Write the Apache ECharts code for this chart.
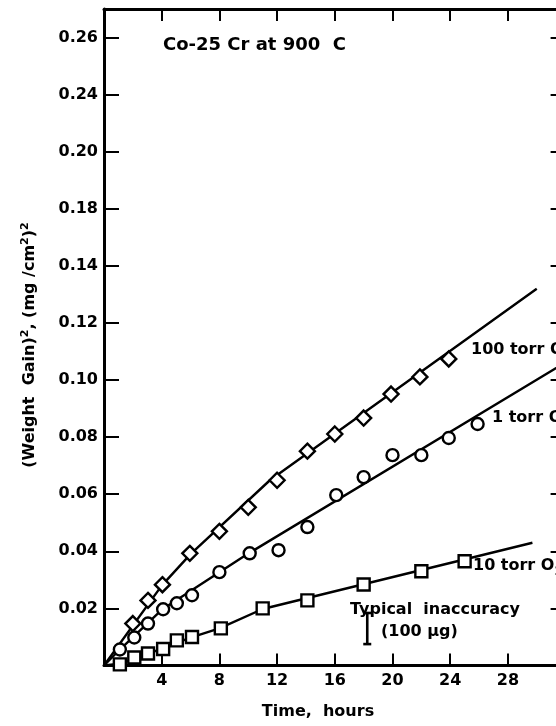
<!DOCTYPE html>
<html>
<head>
<meta charset="utf-8">
<script src="https://cdn.jsdelivr.net/npm/echarts@6/dist/echarts.min.js"></script>
<style>
  html, body { margin: 0; padding: 0; background: #fff; }
  #chart { width: 556px; height: 726px; }
</style>
</head>
<body>
<div id="chart"></div>
<script>
// Co-25 Cr oxidised at 900 C: squared weight gain vs time for three O2 pressures

// 100 torr O2 (diamonds)
const hours100 = [2.0, 3.05, 4.05, 5.95, 8.0, 10.0, 12.0, 14.1, 16.0, 18.0, 19.9, 21.9, 23.9];
const gain100  = [0.0147, 0.0228, 0.0283, 0.0393, 0.0470, 0.0554, 0.0649, 0.0751, 0.0811, 0.0867, 0.0951, 0.1011, 0.1074];
const fitHours100 = [0, 4, 6, 11.5, 30];
const fitGain100  = [0, 0.028, 0.039, 0.0649, 0.132];

// 1 torr O2 (circles)
const hours1 = [1.1, 2.1, 3.05, 4.1, 5.05, 6.1, 8.0, 10.1, 12.1, 14.1, 16.1, 18.0, 20.0, 22.0, 23.9, 25.9];
const gain1  = [0.0056, 0.0098, 0.0147, 0.0197, 0.0218, 0.0246, 0.0327, 0.0393, 0.0404, 0.0485, 0.0597, 0.0660, 0.0737, 0.0737, 0.0797, 0.0846];
const fitHours1 = [0, 1.1, 4, 10, 32];
const fitGain1  = [0, 0.0056, 0.0195, 0.0392, 0.1062];

// 10 torr O2 (squares)
const hours10 = [1.1, 2.1, 3.05, 4.1, 5.05, 6.1, 8.1, 11.0, 14.1, 18.0, 22.0, 25.0];
const gain10  = [0.0004, 0.0028, 0.0042, 0.0058, 0.0088, 0.0100, 0.0130, 0.0200, 0.0228, 0.0284, 0.0330, 0.0365];
const fitHours10 = [0, 1.1, 3, 6, 8, 11, 29.7];
const fitGain10  = [0, 0.0006, 0.004, 0.0098, 0.013, 0.0198, 0.0430];

// typical inaccuracy bar: [hours, low, high]
const inaccuracyBar = [18.25, 0.0075, 0.0184];

// axis tick labels as printed
const xTickLabels = ['', '4', '8', '12', '16', '20', '24', '28', ''];
const yTickLabels = ['', '0.02', '0.04', '0.06', '0.08', '0.10', '0.12', '0.14', '0.18', '0.20', '0.24', '0.26'];

const FONT = '"DejaVu Sans", "Liberation Sans", sans-serif';
const zip = (a, b) => a.map((v, i) => [v, b[i]]);

const chart = echarts.init(document.getElementById('chart'), null, { renderer: 'canvas' });

const axisLine = { show: true, onZero: false, lineStyle: { color: '#000', width: 3 } };
const xTick = { show: true, inside: true, length: 12, lineStyle: { color: '#000', width: 2 } };
const yTick = { show: true, inside: true, length: 15, lineStyle: { color: '#000', width: 2 } };

const fitLine = (name, hrs, vals) => ({
  name, type: 'line', data: zip(hrs, vals), showSymbol: false, symbol: 'none',
  lineStyle: { color: '#000', width: 2.4 }, z: 2, silent: true, animation: false
});
const points = (name, hrs, vals, symbol, size) => ({
  name, type: 'scatter', data: zip(hrs, vals), symbol, symbolSize: size,
  itemStyle: { color: '#fff', borderColor: '#000', borderWidth: 2.4, opacity: 1 },
  z: 3, silent: true, animation: false
});

const option = {
  backgroundColor: '#fff',
  animation: false,
  grid: {
    left: 104, top: 9, width: 461.6, bottom: 60.5,
    containLabel: false, outerBoundsMode: 'none'
  },
  xAxis: [
    {
      type: 'value', position: 'bottom', min: 0, max: 32, interval: 4,
      axisLine, axisTick: xTick, splitLine: { show: false },
      axisLabel: {
        margin: 7, color: '#000', fontFamily: FONT, fontWeight: 'bold', fontSize: 16,
        formatter: v => xTickLabels[Math.round(v / 4)] || ''
      }
    },
    {
      type: 'value', position: 'top', min: 0, max: 32, interval: 4,
      axisLine, axisTick: xTick, splitLine: { show: false }, axisLabel: { show: false }
    }
  ],
  yAxis: [
    {
      type: 'value', position: 'left', min: 0, max: 0.23, interval: 0.02,
      axisLine, axisTick: yTick, splitLine: { show: false },
      axisLabel: {
        margin: 6, color: '#000', fontFamily: FONT, fontWeight: 'bold', fontSize: 16,
        formatter: v => {
          const i = Math.round(v / 0.02);
          return Math.abs(v - i * 0.02) < 1e-6 ? (yTickLabels[i] || '') : '';
        }
      }
    },
    {
      type: 'value', position: 'right', min: 0, max: 0.23, interval: 0.02,
      axisLine, axisTick: yTick, splitLine: { show: false }, axisLabel: { show: false }
    }
  ],
  series: [
    fitLine('100 torr fit', fitHours100, fitGain100),
    fitLine('1 torr fit', fitHours1, fitGain1),
    fitLine('10 torr fit', fitHours10, fitGain10),
    points('100 torr O2', hours100, gain100, 'diamond', [15, 15]),
    points('1 torr O2', hours1, gain1, 'circle', 12),
    points('10 torr O2', hours10, gain10, 'rect', 12),
    {
      name: 'Typical inaccuracy', type: 'custom', silent: true, z: 3,
      data: [inaccuracyBar],
      renderItem: (params, api) => {
        const lo = api.coord([api.value(0), api.value(1)]);
        const hi = api.coord([api.value(0), api.value(2)]);
        const half = 4;
        const st = { stroke: '#000', lineWidth: 2.6 };
        return {
          type: 'group',
          children: [
            { type: 'line', shape: { x1: lo[0], y1: lo[1], x2: hi[0], y2: hi[1] }, style: st },
            { type: 'line', shape: { x1: lo[0] - half, y1: lo[1], x2: lo[0] + half, y2: lo[1] }, style: st },
            { type: 'line', shape: { x1: hi[0] - half, y1: hi[1], x2: hi[0] + half, y2: hi[1] }, style: st }
          ]
        };
      }
    }
  ],
  graphic: [
    {
      type: 'text', x: 163, y: 45,
      style: { text: 'Co-25 Cr at 900  C', fill: '#000', font: 'bold 18px ' + FONT, align: 'left', verticalAlign: 'middle' }
    },
    {
      type: 'text', x: 318, y: 712,
      style: { text: 'Time,  hours', fill: '#000', font: 'bold 16px ' + FONT, align: 'center', verticalAlign: 'middle' }
    },
    {
      type: 'text', x: 30, y: 345, rotation: Math.PI / 2,
      style: {
        text: '{m|(Weight  Gain)}{s|2}{m|, (mg /cm}{s|2}{m|)}{s|2}',
        align: 'center', verticalAlign: 'middle',
        rich: {
          m: { fontFamily: FONT, fontWeight: 'bold', fontSize: 16, fill: '#000', lineHeight: 24 },
          s: { fontFamily: FONT, fontWeight: 'bold', fontSize: 11, fill: '#000', lineHeight: 24, padding: [0, 0, 10, 0] }
        }
      }
    },
    {
      type: 'text', x: 471, y: 350,
      style: {
        text: '{m|100 torr O}{b|2}', align: 'left', verticalAlign: 'middle',
        rich: {
          m: { fontFamily: FONT, fontWeight: 'bold', fontSize: 16, fill: '#000', lineHeight: 22 },
          b: { fontFamily: FONT, fontWeight: 'bold', fontSize: 12, fill: '#000', lineHeight: 22, padding: [10, 0, 0, 0] }
        }
      }
    },
    {
      type: 'text', x: 492, y: 418,
      style: {
        text: '{m|1 torr O}{b|2}', align: 'left', verticalAlign: 'middle',
        rich: {
          m: { fontFamily: FONT, fontWeight: 'bold', fontSize: 16, fill: '#000', lineHeight: 22 },
          b: { fontFamily: FONT, fontWeight: 'bold', fontSize: 12, fill: '#000', lineHeight: 22, padding: [10, 0, 0, 0] }
        }
      }
    },
    {
      type: 'text', x: 473, y: 566,
      style: {
        text: '{m|10 torr O}{b|2}', align: 'left', verticalAlign: 'middle',
        rich: {
          m: { fontFamily: FONT, fontWeight: 'bold', fontSize: 16, fill: '#000', lineHeight: 22 },
          b: { fontFamily: FONT, fontWeight: 'bold', fontSize: 13, fill: '#000', lineHeight: 22, padding: [12, 0, 0, 0] }
        }
      }
    },
    {
      type: 'text', x: 350, y: 610,
      style: { text: 'Typical  inaccuracy', fill: '#000', font: 'bold 16px ' + FONT, align: 'left', verticalAlign: 'middle' }
    },
    {
      type: 'text', x: 381, y: 632,
      style: { text: '(100 μg)', fill: '#000', font: 'bold 16px ' + FONT, align: 'left', verticalAlign: 'middle' }
    }
  ]
};

chart.setOption(option);
</script>
</body>
</html>
